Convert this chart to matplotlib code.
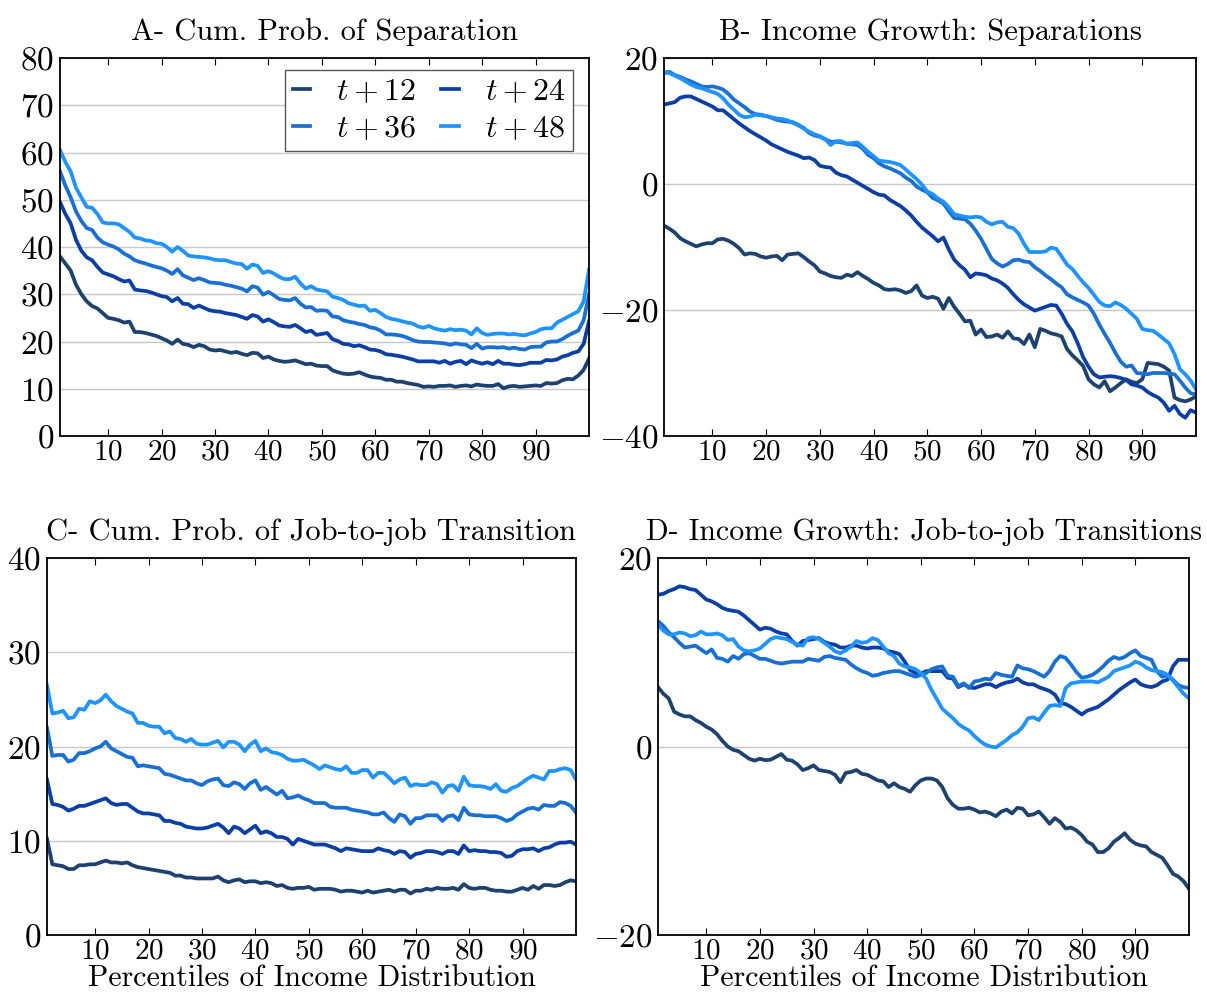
import numpy as np
import matplotlib
matplotlib.use("Agg")
import matplotlib.pyplot as plt

plt.rcParams['font.family'] = 'cmr10'
plt.rcParams['mathtext.fontset'] = 'cm'
plt.rcParams['axes.formatter.use_mathtext'] = True

PCTL = np.arange(1, 101)
LABELS = ['$t+12$', '$t+24$', '$t+36$', '$t+48$']
COLORS = ['#1e426f', '#0b3fa3', '#1a6fd2', '#1f93ff']

# A - cumulative probability of separation
sep_12 = [38, 36.5, 35, 32, 30, 28.5, 27.5, 27, 26, 25,
          24.8, 24.5, 24, 24.2, 22, 22, 21.8, 21.5, 21.2, 20.7,
          20.2, 19.5, 20.4, 19.5, 19.3, 18.8, 19.3, 19, 18.3, 18.1,
          18.2, 17.9, 17.6, 17.8, 17.4, 17.1, 17.6, 17.5, 16.5, 16.8,
          16.2, 15.9, 15.7, 15.8, 16, 15.6, 15.2, 15.3, 14.9, 14.8,
          14.8, 13.9, 13.5, 13.2, 13.1, 13.2, 13.5, 13, 12.6, 12.4,
          12.3, 11.9, 11.9, 11.5, 11.5, 11.2, 11, 10.8, 10.4, 10.5,
          10.4, 10.6, 10.6, 10.7, 10.4, 10.6, 10.7, 10.5, 10.9, 10.7,
          10.6, 10.6, 11.0, 10.1, 10.5, 10.6, 10.4, 10.5, 10.6, 10.7,
          10.6, 11.2, 11.1, 11.2, 11.8, 12.1, 12.0, 12.8, 14.0, 16.4]
sep_24 = [49.5, 47, 45, 41.5, 39.2, 37.8, 37.2, 35.8, 34.6, 34.2,
          33.8, 33.2, 32.7, 32.9, 31, 30.8, 30.7, 30.4, 30, 29.6,
          29.4, 28.5, 29.2, 28, 27.9, 27.1, 27.6, 27.1, 26.6, 26.4,
          26.3, 26, 25.8, 25.6, 25.2, 24.8, 25.6, 25.3, 24.2, 24.7,
          24.1, 23.4, 23.2, 23.1, 23.5, 22.8, 22, 22.3, 21.4, 21.6,
          21.8, 20.5, 20.1, 19.5, 19.4, 19, 19.2, 18.8, 18.3, 18.2,
          17.9, 17.3, 17.2, 17, 16.8, 16.5, 16.2, 15.8, 15.8, 15.8,
          15.8, 15.5, 15.9, 15.3, 15.7, 15.9, 15.2, 16, 15.6, 15.3,
          15.6, 15.2, 15.9, 15.3, 15.3, 15.1, 15, 15.2, 15.5, 15.5,
          15.5, 16.1, 16.0, 16.2, 16.8, 17.1, 17.6, 17.9, 19.5, 24.3]
sep_36 = [56, 53, 50.5, 47.5, 45.5, 44, 43.6, 42, 41, 40.5,
          40.1, 39.5, 38.6, 38, 37.2, 36.8, 36.5, 36.1, 35.8, 35.5,
          35, 34.3, 35.3, 34, 33.5, 33, 33.4, 33, 32.5, 32.4,
          32.3, 32, 31.8, 31.5, 31.2, 30.6, 31.7, 31.4, 29.9, 30.5,
          29.8, 29, 28.8, 28.7, 29.2, 28, 27.2, 27.3, 26.5, 26.6,
          26.5, 25.3, 25.2, 24.5, 24.2, 24, 23.7, 23.5, 23, 22.8,
          22.3, 21.5, 21.5, 21.4, 21.2, 20.8, 20.3, 20, 19.9, 19.9,
          19.8, 19.7, 19.6, 19.3, 19.6, 19.4, 19.3, 18.6, 19.5, 18.5,
          18.8, 18.8, 18.7, 18.8, 18.5, 18.7, 18.4, 18.3, 18.8, 18.9,
          18.9, 19.8, 20.0, 20.0, 20.5, 21.2, 21.8, 22.3, 24.5, 30.0]
sep_48 = [60.5, 58, 56, 52.5, 50.5, 48.5, 48.3, 47, 45.2, 45,
          45, 44.8, 44, 43.2, 42, 41.8, 41.4, 41.3, 40.8, 40.7,
          40, 39, 40, 39.2, 38.2, 38, 37.9, 37.8, 37.6, 37.3,
          37.2, 37.2, 36.8, 36.5, 36.4, 35.4, 36.3, 36, 34.5, 34.9,
          34.4, 33.7, 33.2, 33.2, 33.7, 32.3, 31.2, 31.7, 31, 30.8,
          30.6, 29.5, 29.2, 28.8, 28.1, 27.8, 27.5, 27.6, 26.5, 26.7,
          26, 25.2, 24.8, 24.6, 24.3, 24, 23.8, 23.2, 22.9, 23.3,
          22.8, 22.5, 22.3, 22.6, 22.4, 22.5, 22.3, 21.5, 22.8, 21.8,
          21.4, 21.6, 21.7, 21.7, 21.5, 21.6, 21.4, 21.3, 21.7, 22.0,
          22.6, 22.8, 22.8, 24.0, 24.6, 25.2, 25.8, 26.4, 28.5, 35.2]

# B - income growth, separations
gsep_12 = [-6.6, -7.1, -7.7, -8.6, -9.1, -9.5, -9.9, -9.6, -9.4, -9.4,
           -8.8, -8.7, -9.0, -9.5, -10.2, -11.2, -11.0, -11.1, -11.5, -11.7,
           -11.5, -11.4, -12.1, -11.2, -11.1, -11.0, -11.6, -12.3, -12.9, -13.9,
           -14.2, -14.6, -14.8, -14.9, -14.4, -14.6, -14.0, -14.6, -15.1, -15.7,
           -16.1, -16.7, -16.8, -16.7, -16.9, -17.3, -17.0, -16.1, -17.7, -18.1,
           -17.9, -18.2, -19.8, -18.1, -19.5, -20.6, -21.8, -21.7, -23.9, -23.1,
           -24.3, -24.2, -23.9, -24.4, -23.4, -24.5, -24.6, -25.4, -23.9, -25.9,
           -23.0, -23.3, -23.7, -23.9, -24.2, -26.2, -27.2, -28.0, -28.9, -31.0,
           -31.8, -32.3, -31.3, -32.9, -32.3, -31.6, -31.0, -31.4, -31.6, -31.0,
           -28.4, -28.5, -28.6, -29.0, -29.6, -33.9, -34.3, -34.5, -34.2, -33.7]
gsep_24 = [12.6, 12.8, 13.0, 13.7, 13.9, 13.9, 13.5, 13.1, 12.7, 12.3,
           11.7, 11.7, 11.0, 10.3, 9.6, 9.0, 8.4, 7.9, 7.4, 6.9,
           6.3, 5.9, 5.5, 5.1, 4.8, 4.5, 4.1, 4.2, 3.8, 2.9,
           2.7, 2.6, 1.8, 1.4, 1.2, 0.7, 0.2, -0.3, -0.8, -1.3,
           -1.7, -1.8, -2.5, -3.0, -3.5, -4.2, -5.0, -6.0, -6.9, -7.6,
           -8.3, -9.1, -8.5, -10.4, -12.0, -12.9, -13.6, -14.8, -14.2, -14.3,
           -14.5, -15.0, -15.3, -15.8, -16.5, -17.5, -18.4, -19.1, -19.6, -20.1,
           -19.8, -19.5, -19.2, -19.3, -20.6, -22.2, -23.4, -25.3, -27.5, -29.0,
           -30.2, -30.7, -30.6, -30.5, -30.6, -30.8, -31.1, -31.8, -32.0, -32.3,
           -33.0, -33.5, -33.9, -34.7, -36.0, -35.2, -36.5, -37.1, -35.9, -36.3]
gsep_36 = [17.7, 17.8, 17.3, 17.0, 16.6, 16.3, 15.9, 15.5, 15.4, 15.5,
           15.3, 15.0, 14.3, 13.4, 12.8, 12.2, 11.5, 11.1, 11.0, 10.8,
           10.5, 10.2, 10.0, 9.9, 9.8, 9.4, 8.9, 8.1, 7.7, 7.5,
           7.1, 6.7, 6.7, 6.6, 6.4, 6.3, 6.2, 5.6, 4.6, 4.1,
           3.3, 2.8, 2.5, 2.1, 1.7, 1.0, 0.5, -0.4, -0.9, -1.3,
           -2.2, -2.6, -3.1, -4.3, -5.4, -5.5, -5.6, -6.3, -7.4, -8.7,
           -10.3, -11.9, -12.6, -13.1, -12.7, -12.1, -12.0, -12.3, -12.4, -13.2,
           -13.8, -14.5, -15.1, -15.8, -16.4, -17.5, -18.0, -18.4, -18.8, -19.3,
           -20.6, -22.3, -23.8, -25.2, -26.8, -28.2, -29.0, -28.8, -30.0, -30.1,
           -30.2, -30.0, -30.0, -30.0, -30.1, -30.2, -31.2, -32.3, -33.2, -33.4]
gsep_48 = [17.7, 17.6, 17.2, 16.8, 16.3, 15.8, 15.4, 15.2, 14.9, 14.6,
           14.3, 13.6, 12.6, 11.8, 11.0, 10.6, 10.7, 11.0, 10.9, 10.8,
           10.6, 10.4, 10.3, 10.1, 9.7, 9.3, 8.8, 8.3, 7.9, 7.6,
           7.1, 6.2, 6.8, 6.8, 6.4, 6.5, 6.6, 5.9, 5.1, 4.4,
           3.7, 3.6, 3.5, 3.3, 3.0, 2.3, 1.5, 0.8, -0.1, -1.2,
           -1.6, -2.3, -2.8, -3.7, -4.8, -5.0, -5.2, -5.3, -5.2, -5.3,
           -6.0, -6.4, -6.1, -6.0, -6.8, -7.0, -7.9, -9.5, -10.8, -10.8,
           -10.8, -10.7, -10.1, -10.3, -11.5, -12.8, -13.5, -14.6, -15.6, -16.5,
           -17.6, -18.7, -19.3, -19.4, -18.8, -19.2, -19.8, -20.6, -21.4, -23.0,
           -23.2, -23.3, -23.9, -24.6, -25.3, -27.0, -29.4, -30.2, -31.2, -32.6]

# C - cumulative probability of job-to-job transition
j2j_12 = [10.2, 7.5, 7.4, 7.3, 7.0, 7.0, 7.4, 7.4, 7.5, 7.5,
          7.7, 7.9, 7.7, 7.7, 7.6, 7.7, 7.4, 7.2, 7.1, 7.0,
          6.9, 6.8, 6.7, 6.6, 6.3, 6.3, 6.1, 6.1, 6.0, 6.0,
          6.0, 6.0, 6.2, 5.8, 5.6, 5.8, 5.9, 5.6, 5.7, 5.7,
          5.5, 5.6, 5.5, 5.2, 5.3, 5.0, 4.9, 5.0, 5.0, 5.1,
          4.8, 4.9, 4.9, 4.9, 4.8, 4.6, 4.7, 4.7, 4.6, 4.5,
          4.7, 4.5, 4.6, 4.7, 4.8, 4.6, 4.8, 4.8, 4.4, 4.7,
          4.7, 4.9, 4.8, 5.0, 4.9, 4.9, 5.0, 4.8, 5.4, 5.0,
          4.9, 5.0, 5.0, 4.8, 4.7, 4.7, 4.6, 4.6, 4.8, 5.0,
          4.8, 5.2, 4.9, 5.3, 5.3, 5.2, 5.3, 5.6, 5.8, 5.7]
j2j_24 = [16.5, 13.9, 13.8, 13.6, 13.2, 13.4, 13.7, 13.7, 13.9, 14.1,
          14.3, 14.5, 14.0, 13.8, 13.9, 13.9, 13.5, 13.1, 12.9, 12.9,
          12.8, 12.7, 12.1, 12.1, 11.9, 11.8, 11.5, 11.4, 11.3, 11.3,
          11.4, 11.6, 11.8, 11.4, 10.8, 11.5, 11.3, 10.8, 11.2, 11.6,
          10.8, 11.0, 10.8, 10.4, 10.4, 10.2, 9.6, 10.2, 10.0, 9.8,
          9.6, 9.6, 9.6, 9.4, 9.2, 8.9, 9.2, 9.1, 9.0, 8.9,
          8.9, 8.9, 9.2, 9.0, 8.9, 8.6, 8.9, 8.8, 8.2, 8.6,
          8.7, 8.9, 8.9, 8.8, 8.6, 8.9, 8.9, 8.6, 9.5, 8.9,
          9.0, 8.9, 8.9, 8.8, 8.8, 8.7, 8.3, 8.4, 8.9, 9.1,
          9.1, 9.2, 8.9, 9.2, 9.3, 9.6, 9.8, 9.8, 9.9, 9.6]
j2j_36 = [22.0, 19.0, 19.1, 19.1, 18.4, 18.6, 19.3, 19.3, 19.5, 19.8,
          20.0, 20.5, 19.8, 19.5, 19.2, 18.9, 18.8, 17.9, 18.0, 17.9,
          17.8, 17.7, 17.1, 17.0, 16.8, 16.6, 16.4, 16.4, 16.1, 15.9,
          16.3, 16.5, 16.6, 15.9, 15.8, 16.2, 16.0, 15.5, 16.1, 16.4,
          15.4, 15.7, 15.3, 14.9, 15.3, 14.5, 14.6, 14.8, 14.5, 14.3,
          14.0, 14.0, 14.0, 13.6, 13.5, 13.5, 13.5, 13.3, 13.2, 13.1,
          13.0, 12.8, 12.8, 13.0, 12.4, 12.0, 12.8, 12.6, 11.8, 12.4,
          12.4, 12.7, 12.7, 12.7, 12.1, 12.6, 12.7, 12.2, 13.5, 12.8,
          12.7, 12.7, 12.6, 12.6, 12.6, 12.4, 12.1, 12.3, 12.8, 13.1,
          13.4, 13.5, 13.3, 13.8, 13.7, 13.7, 14.1, 14.0, 13.7, 13.0]
j2j_48 = [26.5, 23.5, 23.6, 23.8, 23.0, 23.1, 24.0, 23.9, 24.8, 24.6,
          24.9, 25.5, 24.8, 24.3, 24.0, 23.7, 23.5, 22.5, 22.5, 22.2,
          22.1, 22.1, 21.4, 21.6, 20.9, 20.8, 20.5, 20.8, 20.3, 20.2,
          20.2, 20.4, 20.6, 19.9, 20.5, 20.5, 20.2, 19.5, 20.2, 20.6,
          19.5, 19.8, 19.4, 19.3, 19.1, 18.7, 18.5, 18.5, 18.6, 18.3,
          18.0, 17.6, 18.0, 17.8, 17.6, 17.5, 17.9, 17.2, 17.2, 17.5,
          17.5, 16.7, 17.2, 17.2, 16.7, 16.1, 16.5, 16.7, 15.8, 16.0,
          15.9, 15.9, 16.2, 16.0, 15.1, 15.8, 15.9, 15.3, 16.8, 15.9,
          15.8, 15.8, 15.7, 15.5, 16.0, 15.3, 15.2, 15.6, 15.8, 16.2,
          16.6, 16.9, 16.7, 16.5, 17.4, 17.4, 17.6, 17.7, 17.5, 16.5]

# D - income growth, job-to-job transitions
gj2j_12 = [6.3, 5.6, 5.1, 3.7, 3.4, 3.2, 3.2, 2.8, 2.5, 2.1,
           1.8, 1.3, 0.6, 0.0, -0.35, -0.5, -0.9, -1.3, -1.5, -1.3,
           -1.45, -1.4, -1.1, -0.8, -1.4, -1.5, -1.9, -2.5, -2.3, -2.0,
           -2.5, -2.6, -2.7, -3.0, -3.8, -2.8, -2.7, -2.5, -2.9, -3.0,
           -3.3, -3.6, -3.7, -4.3, -3.9, -4.3, -4.5, -4.8, -4.1, -3.6,
           -3.4, -3.4, -3.6, -4.3, -5.5, -6.2, -6.6, -6.6, -6.5, -6.7,
           -7.0, -6.9, -7.1, -7.4, -6.9, -6.7, -7.1, -6.5, -6.6, -7.3,
           -7.2, -6.9, -7.5, -8.2, -7.6, -8.0, -8.7, -8.6, -8.9, -9.4,
           -10.1, -10.4, -11.2, -11.2, -10.8, -10.1, -9.7, -9.2, -9.9, -10.3,
           -10.5, -10.6, -11.2, -11.5, -11.8, -12.6, -13.5, -13.8, -14.3, -15.1]
gj2j_24 = [16.1, 16.2, 16.5, 16.7, 17.0, 16.9, 16.7, 16.6, 16.1, 15.6,
           15.4, 15.1, 14.7, 14.5, 14.4, 14.3, 13.9, 13.4, 12.9, 12.4,
           12.6, 12.5, 12.2, 12.0, 11.9, 11.2, 10.7, 11.2, 11.3, 11.4,
           11.5, 11.1, 10.9, 10.8, 10.5, 10.5, 10.7, 10.7, 10.5, 10.4,
           10.5, 10.5, 10.4, 10.1, 10.0, 9.8, 9.0, 8.1, 7.8, 7.7,
           8.0, 8.0, 8.0, 8.0, 7.3, 7.2, 6.3, 6.6, 6.3, 6.2,
           6.4, 6.6, 6.6, 6.3, 6.6, 6.8, 6.9, 7.2, 6.8, 6.6,
           6.6, 6.3, 6.1, 5.9, 5.5, 4.6, 4.5, 4.2, 3.8, 3.4,
           3.8, 4.0, 4.2, 4.6, 5.0, 5.5, 6.0, 6.4, 6.8, 7.1,
           6.6, 6.4, 6.3, 6.5, 6.9, 7.1, 8.5, 9.2, 9.2, 9.2]
gj2j_36 = [13.3, 12.8, 12.1, 11.6, 11.0, 10.5, 10.6, 10.7, 10.3, 9.9,
           10.3, 9.4, 9.3, 9.0, 9.6, 9.3, 9.8, 9.9, 9.6, 9.3,
           9.3, 9.1, 8.9, 8.8, 8.9, 9.0, 9.0, 9.0, 9.3, 9.2,
           9.1, 9.5, 9.6, 9.4, 9.3, 9.2, 8.7, 8.3, 8.0, 7.8,
           7.5, 7.6, 7.8, 7.9, 8.0, 8.0, 7.8, 7.6, 7.4, 7.6,
           7.8, 8.2, 8.4, 8.5, 7.5, 7.4, 6.4, 6.7, 6.2, 6.9,
           7.0, 7.2, 7.1, 7.8, 7.6, 7.5, 7.4, 8.6, 8.3, 8.2,
           8.0, 7.7, 7.4, 8.0, 9.0, 9.6, 9.4, 8.7, 7.9, 7.3,
           7.4, 7.6, 8.0, 8.5, 9.1, 9.5, 9.3, 9.5, 9.9, 10.2,
           9.6, 9.4, 9.2, 8.0, 7.4, 7.6, 7.1, 6.5, 6.3, 6.2]
gj2j_48 = [12.9, 12.3, 11.9, 11.9, 12.1, 12.0, 11.7, 11.8, 12.2, 11.9,
           11.9, 12.0, 11.8, 11.3, 11.4, 10.6, 10.2, 10.1, 10.2, 10.4,
           10.9, 11.4, 11.6, 11.5, 11.4, 11.1, 10.8, 10.7, 11.5, 11.6,
           11.4, 11.0, 10.6, 10.1, 9.9, 10.2, 10.6, 11.2, 11.0, 11.1,
           11.5, 11.3, 10.6, 9.9, 9.6, 8.8, 8.5, 8.4, 8.2, 7.8,
           7.2, 6.0, 5.0, 4.0, 3.5, 3.0, 2.4, 2.0, 1.7, 1.1,
           0.6, 0.2, 0.0, -0.1, 0.3, 0.7, 1.2, 1.5, 2.1, 3.0,
           3.1, 2.8, 3.6, 4.3, 4.4, 4.3, 6.2, 6.7, 6.8, 6.9,
           6.9, 6.9, 6.8, 7.1, 7.4, 8.0, 8.2, 8.4, 8.6, 9.0,
           8.8, 8.4, 8.1, 8.0, 7.9, 7.6, 7.0, 6.3, 5.6, 5.1]

panels = [
    ('A- Cum. Prob. of Separation', [sep_12, sep_24, sep_36, sep_48], (0, 80), np.arange(0, 81, 10)),
    ('B- Income Growth: Separations', [gsep_12, gsep_24, gsep_36, gsep_48], (-40, 20), [-40, -20, 0, 20]),
    ('C- Cum. Prob. of Job-to-job Transition', [j2j_12, j2j_24, j2j_36, j2j_48], (0, 40), np.arange(0, 41, 10)),
    ('D- Income Growth: Job-to-job Transitions', [gj2j_12, gj2j_24, gj2j_36, gj2j_48], (-20, 20), [-20, 0, 20]),
]

W, H = 1207, 993
boxes = [(60, 58, 589, 436), (664, 58, 1196, 436),
         (47, 558, 576, 935), (658, 558, 1189, 935)]

fig = plt.figure(figsize=(W / 100, H / 100), dpi=100)

for i, (title, series, ylim, yticks) in enumerate(panels):
    x0, y0, x1, y1 = boxes[i]
    ax = fig.add_axes([x0 / W, 1 - y1 / H, (x1 - x0) / W, (y1 - y0) / H])
    lines = []
    for s, lab, c in zip(series, LABELS, COLORS):
        ln, = ax.plot(PCTL, s, color=c, lw=2.7, label=lab)
        lines.append(ln)
    ax.set_xlim(1, 100)
    ax.set_ylim(*ylim)
    ax.set_yticks(yticks)
    ax.set_xticks(np.arange(10, 100, 10))
    ax.yaxis.grid(True, color='#c8c8c8', lw=1.0)
    ax.set_axisbelow(True)
    ax.tick_params(axis='x', direction='in', top=True, length=5, width=0.8,
                   labelsize=21, pad=2)
    ax.tick_params(axis='y', length=0, labelsize=24, pad=4)
    for sp in ax.spines.values():
        sp.set_linewidth(1.3)
    ax.set_title(title, fontsize=22 if i < 3 else 21.5, pad=13)
    if i >= 2:
        ax.set_xlabel('Percentiles of Income Distribution', fontsize=21.5, va='bottom')
        ax.xaxis.set_label_coords(0.5, -(H - 1 - y1) / (y1 - y0))
    if i == 0:
        # row-major legend order: t+12, t+24 / t+36, t+48
        order = [0, 2, 1, 3]
        leg = ax.legend([lines[k] for k in order], [LABELS[k] for k in order],
                        ncol=2, loc='upper right', fontsize=23, fancybox=False,
                        edgecolor='#555555', framealpha=1, handlelength=0.55,
                        handletextpad=0.8, columnspacing=0.8, borderpad=0.25,
                        labelspacing=0.25, borderaxespad=0,
                        bbox_to_anchor=(0.970, 0.968))
        leg.get_frame().set_linewidth(1.0)

fig.savefig('out.png', dpi=100)
